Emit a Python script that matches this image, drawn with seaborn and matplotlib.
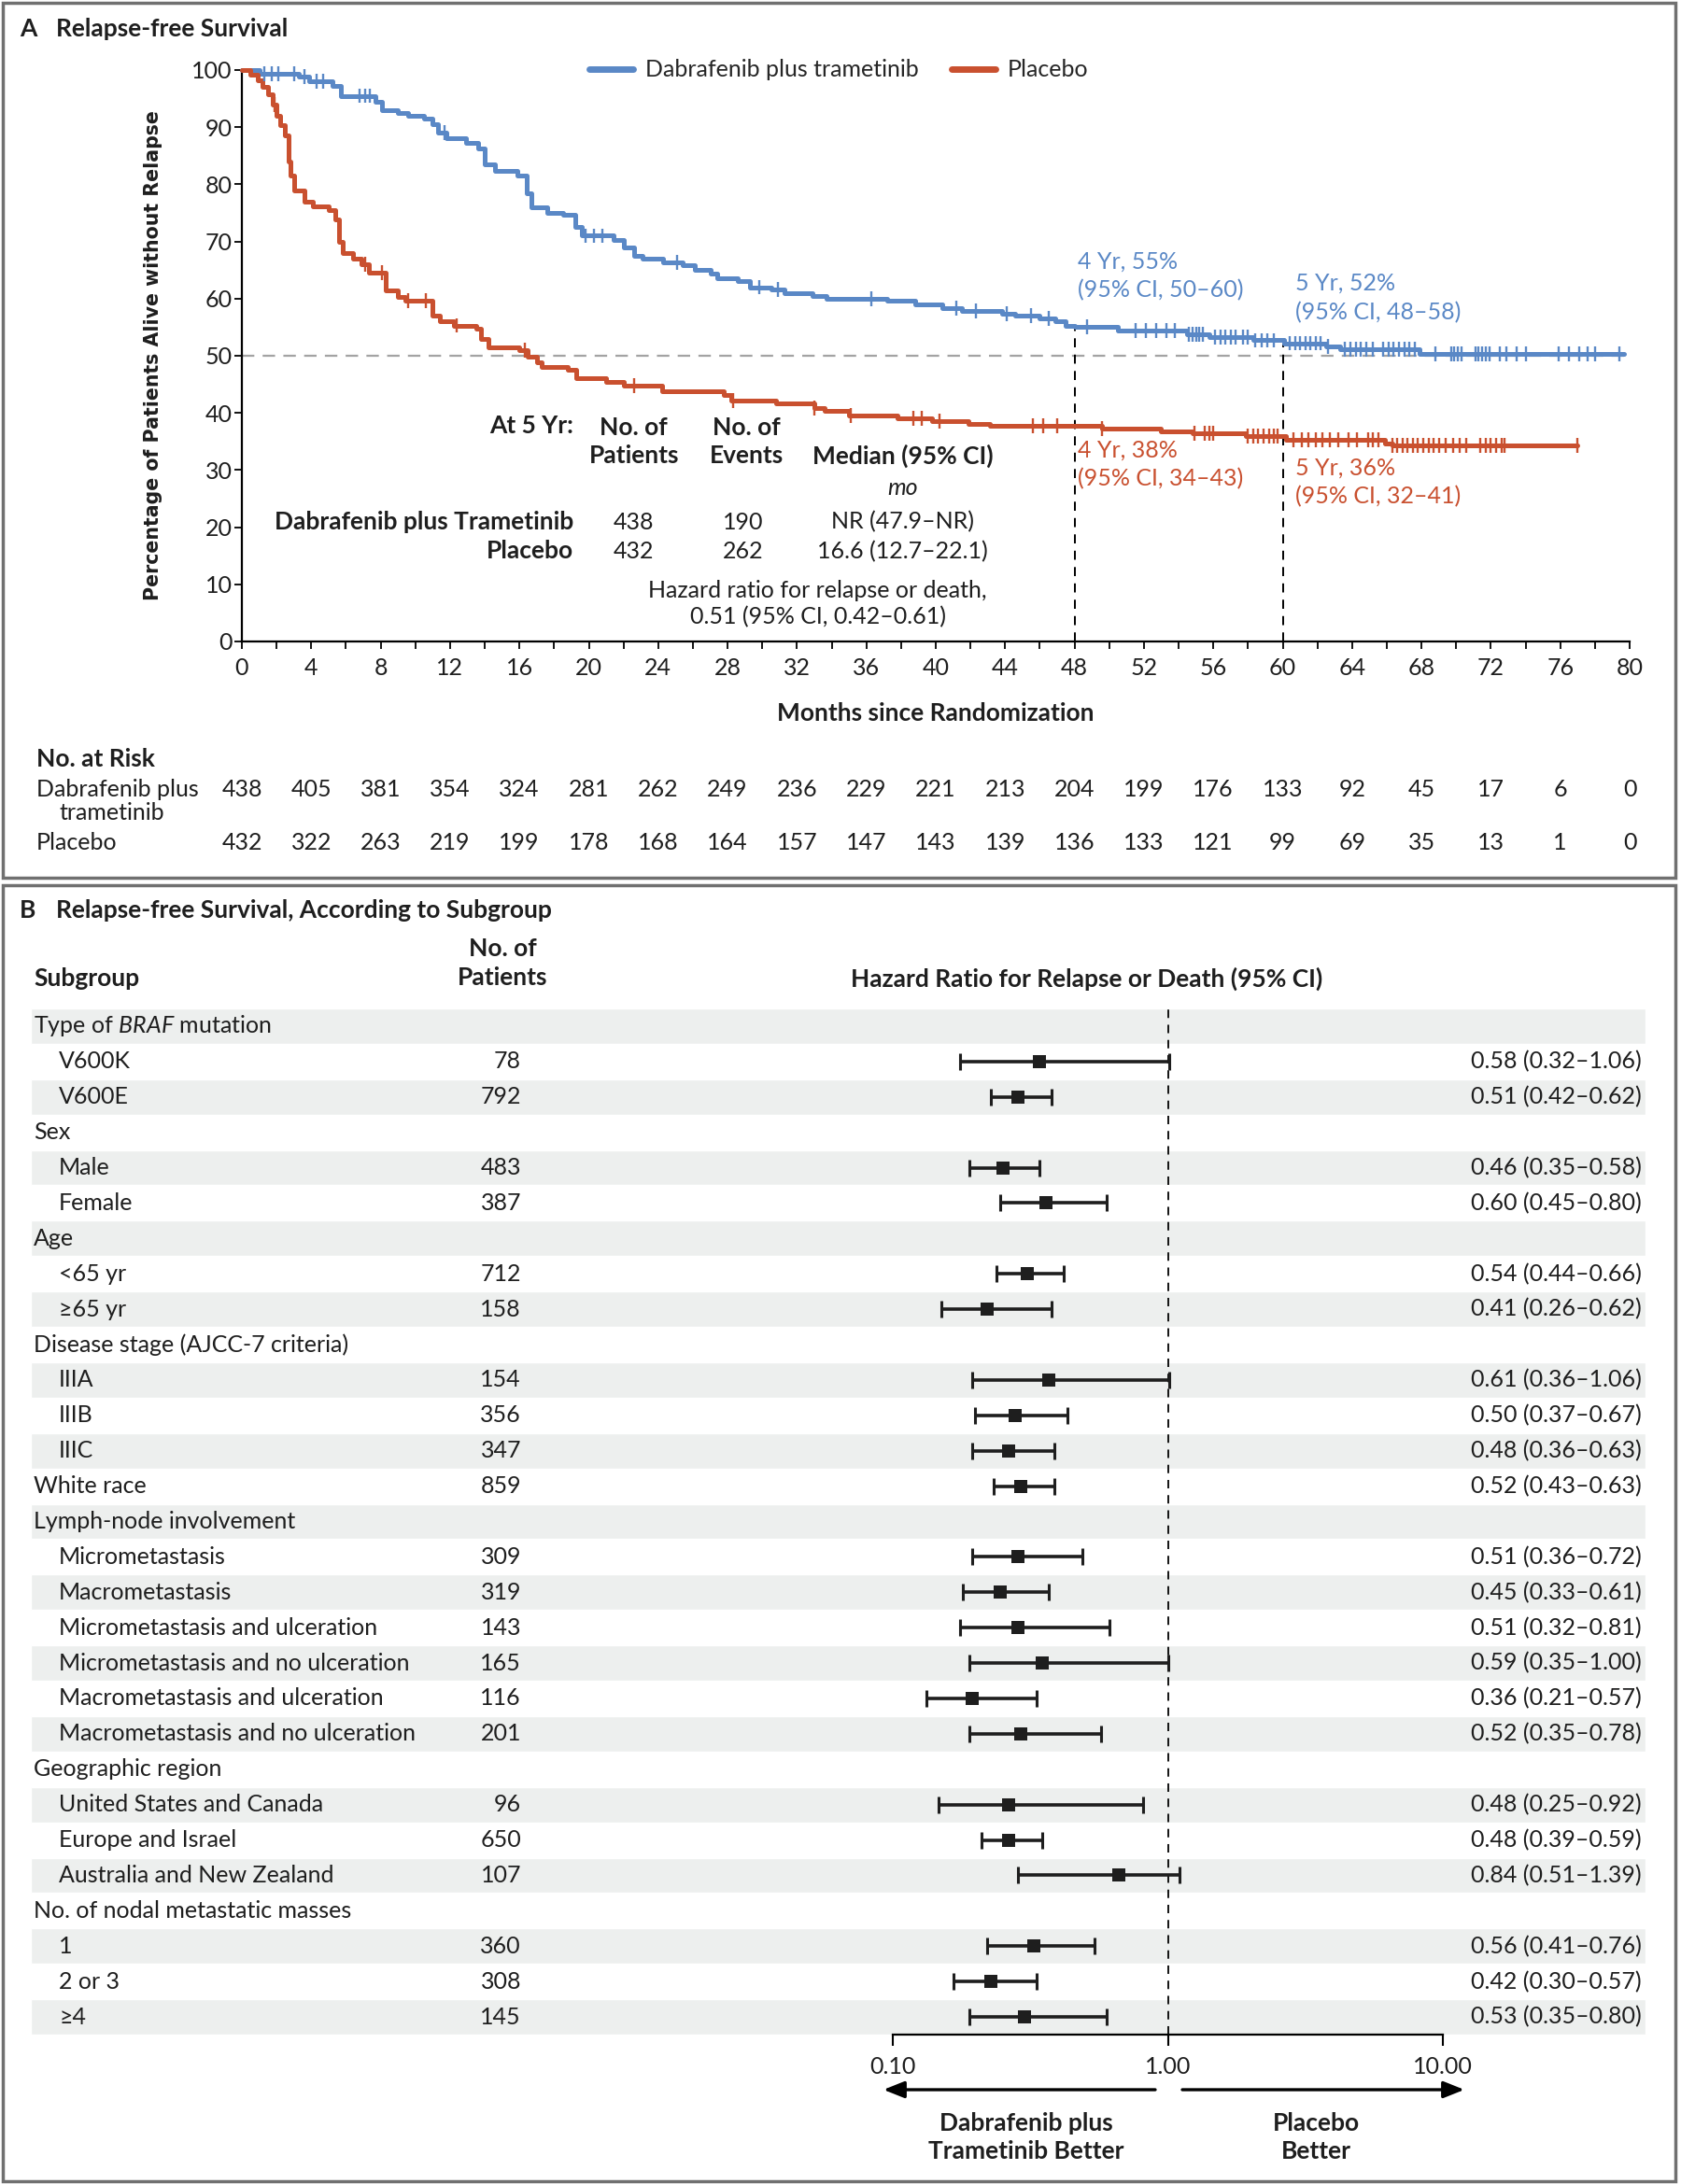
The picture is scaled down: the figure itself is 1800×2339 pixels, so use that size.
#--------------------------- Relapse-free Survival ---------------------------#
#Panel A: Kaplan-Meier curves + No. at Risk
#Panel B: Forest plot nach Subgruppen

import numpy as np
import pandas as pd
import matplotlib
matplotlib.use('Agg')
import matplotlib.pyplot as plt
import seaborn as sns
from matplotlib import font_manager
from matplotlib.patches import Rectangle, FancyArrowPatch
from matplotlib.transforms import blended_transform_factory

#----------- Daten -----------#
#Kaplan-Meier Stufen (Monat, Prozent)
blue_t = [0, 1.0, 3.3, 3.9, 5.2, 5.7, 7.7, 8.1, 9.0, 9.6, 10.5, 11.0, 11.3, 11.8, 12.9, 13.6,
          14.0, 14.6, 15.9, 16.4, 16.7, 17.6, 18.5, 19.2, 19.6, 21.4, 22.0, 22.6, 23.1, 24.3,
          25.4, 26.1, 27.0, 27.4, 28.6, 29.3, 30.5, 31.3, 32.9, 33.7, 37.2, 38.8, 40.4, 41.5,
          43.8, 44.6, 46.0, 46.9, 47.5, 48.0, 50.5, 54.5, 55.8, 58.3, 60.1, 62.5, 63.3, 67.9, 79.7]
blue_s = [100, 99.3, 98.8, 98.0, 97.3, 95.5, 94.5, 93.0, 92.5, 92.0, 91.5, 90.5, 89.0, 88.0, 87.2, 86.3,
          83.5, 82.4, 81.5, 78.5, 76.0, 75.0, 74.6, 72.5, 71.0, 70.3, 69.0, 67.5, 67.0, 66.4,
          65.8, 65.1, 64.4, 63.6, 63.0, 62.0, 61.6, 61.0, 60.5, 60.0, 59.6, 59.0, 58.4, 57.9,
          57.4, 57.0, 56.5, 56.0, 55.3, 55.0, 54.4, 53.8, 53.2, 52.7, 52.2, 51.7, 51.2, 50.3, 50.3]
red_t = [0, 0.5, 0.9, 1.2, 1.5, 1.8, 2.0, 2.2, 2.5, 2.7, 2.8, 3.0, 3.6, 4.1, 5.0, 5.4, 5.6, 5.8,
         6.4, 6.9, 7.3, 8.3, 9.0, 9.4, 11.0, 11.4, 12.2, 13.5, 13.8, 14.2, 16.0, 16.5, 17.0, 17.3,
         18.8, 19.3, 21.0, 22.0, 24.2, 27.8, 28.2, 30.8, 33.0, 33.6, 35.0, 37.8, 39.8, 41.9, 43.1,
         49.6, 53.0, 54.8, 57.9, 60.2, 65.9, 66.3, 77.0]
red_s = [100, 99.2, 98.2, 97.0, 95.8, 94.0, 92.0, 90.3, 88.5, 84.0, 81.5, 79.0, 77.0, 76.2, 75.5, 73.8, 70.0, 68.0,
         67.0, 66.0, 64.5, 61.5, 60.3, 59.6, 57.0, 56.0, 55.3, 54.8, 53.0, 51.5, 51.0, 49.8, 48.8, 48.0,
         47.6, 46.0, 45.5, 44.8, 43.8, 43.2, 42.2, 41.7, 40.8, 40.3, 39.6, 39.0, 38.5, 38.1, 37.8,
         37.3, 36.8, 36.4, 35.9, 35.3, 34.7, 34.3, 34.3]

#Zensierungen (Monat)
blue_cens = [1.3, 1.7, 2.1, 3.0, 3.6, 4.3, 4.7, 6.8, 7.1, 7.4, 11.7, 19.8, 20.3, 20.8, 25.1, 29.8, 30.9,
             36.3, 41.2, 42.3, 44.1, 45.5, 46.5, 48.7, 51.5, 52.1, 52.7, 53.3, 53.8, 54.6, 54.8, 55.0,
             55.2, 55.4, 56.1, 56.4, 56.7, 57.0, 57.3, 57.7, 58.0, 58.4, 58.8, 59.1, 59.5, 60.4, 60.7,
             61.0, 61.3, 61.6, 61.9, 62.2, 62.6, 63.6, 63.9, 64.2, 64.5, 64.8, 65.2, 65.8, 66.1, 66.4,
             66.7, 67.0, 67.3, 67.6, 68.8, 69.7, 69.9, 70.1, 70.3, 71.1, 71.3, 71.5, 71.7, 71.9, 72.5,
             72.9, 73.5, 74.0, 75.9, 76.5, 77.1, 77.6, 78.0, 79.4]
red_cens = [1.9, 7.1, 8.1, 9.6, 10.6, 12.4, 16.3, 22.6, 28.3, 33.0, 35.1, 38.7, 39.2, 40.2, 45.6, 46.2,
            47.0, 49.6, 54.9, 55.5, 55.8, 56.0, 58.0, 58.3, 58.6, 58.9, 59.2, 59.5, 59.7, 60.6, 61.1,
            61.5, 61.9, 62.3, 62.7, 63.2, 63.8, 64.3, 64.9, 65.2, 65.5, 66.3, 66.6, 66.9, 67.2, 67.5,
            67.8, 68.1, 68.4, 68.7, 69.0, 69.4, 69.8, 70.2, 70.6, 71.4, 71.7, 72.0, 72.3, 72.6, 72.8, 77.0]

arm_names = ['Dabrafenib plus trametinib', 'Placebo']

#No. at Risk
risk_months = list(range(0, 81, 4))
risk_blue = [438, 405, 381, 354, 324, 281, 262, 249, 236, 229, 221, 213, 204, 199, 176, 133, 92, 45, 17, 6, 0]
risk_red = [432, 322, 263, 219, 199, 178, 168, 164, 157, 147, 143, 139, 136, 133, 121, 99, 69, 35, 13, 1, 0]

#Subgruppen
sub_labels = ['Type of $\\mathit{BRAF}$ mutation', 'V600K', 'V600E', 'Sex', 'Male', 'Female', 'Age',
              '<65 yr', '\u226565 yr', 'Disease stage (AJCC-7 criteria)', 'IIIA', 'IIIB', 'IIIC',
              'White race', 'Lymph-node involvement', 'Micrometastasis', 'Macrometastasis',
              'Micrometastasis and ulceration', 'Micrometastasis and no ulceration',
              'Macrometastasis and ulceration', 'Macrometastasis and no ulceration',
              'Geographic region', 'United States and Canada', 'Europe and Israel',
              'Australia and New Zealand', 'No. of nodal metastatic masses', '1', '2 or 3', '\u22654']
sub_indent = [0, 1, 1, 0, 1, 1, 0, 1, 1, 0, 1, 1, 1, 0, 0, 1, 1, 1, 1, 1, 1, 0, 1, 1, 1, 0, 1, 1, 1]
sub_n = [None, 78, 792, None, 483, 387, None, 712, 158, None, 154, 356, 347, 859, None, 309, 319,
         143, 165, 116, 201, None, 96, 650, 107, None, 360, 308, 145]
sub_hr = [np.nan, 0.58, 0.51, np.nan, 0.46, 0.60, np.nan, 0.54, 0.41, np.nan, 0.61, 0.50, 0.48, 0.52,
          np.nan, 0.51, 0.45, 0.51, 0.59, 0.36, 0.52, np.nan, 0.48, 0.48, 0.84, np.nan, 0.56, 0.42, 0.53]
sub_lo = [np.nan, 0.32, 0.42, np.nan, 0.35, 0.45, np.nan, 0.44, 0.26, np.nan, 0.36, 0.37, 0.36, 0.43,
          np.nan, 0.36, 0.33, 0.32, 0.35, 0.21, 0.35, np.nan, 0.25, 0.39, 0.51, np.nan, 0.41, 0.30, 0.35]
sub_hi = [np.nan, 1.06, 0.62, np.nan, 0.58, 0.80, np.nan, 0.66, 0.62, np.nan, 1.06, 0.67, 0.63, 0.63,
          np.nan, 0.72, 0.61, 0.81, 1.00, 0.57, 0.78, np.nan, 0.92, 0.59, 1.39, np.nan, 0.76, 0.57, 0.80]

#----------- Stil -----------#
sns.set_theme(style='ticks')
installed = {f.name for f in font_manager.fontManager.ttflist}
narrow = 'Liberation Sans Narrow' in installed
MAIN = 'Liberation Sans Narrow' if narrow else 'Lato'
FS = 20 if narrow else 18       #normal
FB = 20 if narrow else 19       #fett
LS = 1.3                        #Zeilenabstand
plt.rcParams['font.family'] = [MAIN, 'DejaVu Sans']
plt.rcParams['mathtext.fontset'] = 'custom'
plt.rcParams['mathtext.it'] = MAIN + ':italic'
plt.rcParams['mathtext.rm'] = MAIN

BLUE = '#5A88C6'
RED = '#C9502F'
BAND = '#EDEFEE'
FRAME = '#707070'
INK = '#1E1E1E'

W, H = 1800, 2339
fig = plt.figure(figsize=(18, 23.39), dpi=100)
fig.patch.set_facecolor('white')

def box(x0, y0, x1, y1):
    #Pixelbox -> Figure-Koordinaten
    return [x0 / W, 1 - y1 / H, (x1 - x0) / W, (y1 - y0) / H]

def ftext(x, y, s, **kw):
    kw.setdefault('fontsize', FS)
    kw.setdefault('color', INK)
    return fig.text(x / W, 1 - y / H, s, **kw)

#Rahmen
fig.add_artist(Rectangle((3 / W, 1 - 940 / H), 1791 / W, 937 / H, transform=fig.transFigure,
                         fill=False, ec=FRAME, lw=2.5))
fig.add_artist(Rectangle((3 / W, 1 - 2336 / H), 1791 / W, 1388 / H, transform=fig.transFigure,
                         fill=False, ec=FRAME, lw=2.5))

#----------- Panel A -----------#
ftext(21, 31, 'A', fontweight='bold', va='center', fontsize=FB)
ftext(60, 31, 'Relapse-free Survival', fontweight='bold', va='center', fontsize=FB)

def step_at(t_arr, s_arr, t):
    idx = np.searchsorted(np.asarray(t_arr), np.asarray(t), side='right') - 1
    return np.asarray(s_arr)[idx]

km = pd.concat([pd.DataFrame({'month': blue_t, 'pct': blue_s, 'arm': arm_names[0]}),
                pd.DataFrame({'month': red_t, 'pct': red_s, 'arm': arm_names[1]})])
cens = pd.concat([pd.DataFrame({'month': blue_cens, 'pct': step_at(blue_t, blue_s, blue_cens), 'arm': arm_names[0]}),
                  pd.DataFrame({'month': red_cens, 'pct': step_at(red_t, red_s, red_cens), 'arm': arm_names[1]})])

ax = fig.add_axes(box(259, 75, 1745, 687))
ax.axhline(50, color='#A3A3A3', lw=1.6, ls=(0, (6, 4)), zorder=1)
ax.vlines([48, 60], 0, [step_at(blue_t, blue_s, 48), step_at(blue_t, blue_s, 60)],
          color='black', lw=1.4, ls=(0, (5, 4)), zorder=1)
sns.lineplot(data=km, x='month', y='pct', hue='arm', hue_order=arm_names, palette=[BLUE, RED],
             estimator=None, sort=False, drawstyle='steps-post', linewidth=3.6, ax=ax, zorder=3,
             clip_on=False)
sns.scatterplot(data=cens, x='month', y='pct', hue='arm', hue_order=arm_names, palette=[BLUE, RED],
                marker='|', s=130, linewidth=1.7, legend=False, ax=ax, zorder=4, clip_on=False)

handles, labels = ax.get_legend_handles_labels()
leg = ax.legend(handles, labels, loc='center', bbox_to_anchor=(0.43, 1.0), ncol=2, frameon=False,
                fontsize=FS, handlelength=1.9, handletextpad=0.5, columnspacing=1.4)
for ln in leg.get_lines():
    ln.set_linewidth(5)

ax.set_xlim(0, 80)
ax.set_ylim(0, 100)
ax.set_xticks(risk_months)
ax.set_xticks(range(0, 81, 2), minor=True)
ax.set_yticks(range(0, 101, 10))
ax.tick_params(axis='both', which='both', direction='out', length=5.5, width=1.3, color='black',
               labelsize=FS, labelcolor=INK)
ax.tick_params(axis='x', pad=7)
ax.tick_params(axis='y', pad=2)
sns.despine(ax=ax)
for sp in ['left', 'bottom']:
    ax.spines[sp].set_linewidth(1.6)
    ax.spines[sp].set_color('black')
ax.set_xlabel('Months since Randomization', fontsize=FB, fontweight='bold', color=INK, va='center')
ax.xaxis.set_label_coords(0.5, (687 - 764) / 612)
ax.set_ylabel('Percentage of Patients Alive without Relapse', fontsize=14.8, fontweight='bold',
              family='DejaVu Sans', color=INK, va='center')
ax.yaxis.set_label_coords((164 - 259) / 1486, 0.5)

#Jahresangaben
ann = dict(fontsize=FS, va='top', linespacing=1.42)
ax.text(48.2, 68.4, '4 Yr, 55%\n(95% CI, 50\u201360)', color=BLUE, **ann)
ax.text(60.7, 64.6, '5 Yr, 52%\n(95% CI, 48\u201358)', color=BLUE, **ann)
ax.text(48.2, 35.4, '4 Yr, 38%\n(95% CI, 34\u201343)', color=RED, **ann)
ax.text(60.7, 32.3, '5 Yr, 36%\n(95% CI, 32\u201341)', color=RED, **ann)

#Tabelle im Plot
tk = dict(color=INK, va='center')
ax.text(19.1, 37.7, 'At 5 Yr:', ha='right', fontweight='bold', fontsize=FB, **tk)
ax.text(22.6, 35.0, 'No. of\nPatients', ha='center', fontweight='bold', fontsize=FB, linespacing=LS, **tk)
ax.text(29.1, 35.0, 'No. of\nEvents', ha='center', fontweight='bold', fontsize=FB, linespacing=LS, **tk)
ax.text(38.1, 32.4, 'Median (95% CI)', ha='center', fontweight='bold', fontsize=FB, **tk)
ax.text(38.1, 26.8, 'mo', ha='center', style='italic', fontsize=FS, **tk)
ax.text(19.1, 20.9, 'Dabrafenib plus Trametinib', ha='right', fontweight='bold', fontsize=FB, **tk)
ax.text(19.1, 15.8, 'Placebo', ha='right', fontweight='bold', fontsize=FB, **tk)
for yy, vals in [(20.9, ['438', '190', 'NR (47.9\u2013NR)']), (15.8, ['432', '262', '16.6 (12.7\u201322.1)'])]:
    for xx, v in zip([22.6, 28.9, 38.1], vals):
        ax.text(xx, yy, v, ha='center', fontsize=FS, **tk)
ax.text(33.2, 6.6, 'Hazard ratio for relapse or death,\n0.51 (95% CI, 0.42\u20130.61)', ha='center',
        linespacing=1.25, fontsize=FS, **tk)

#No. at Risk
trans = blended_transform_factory(ax.transData, fig.transFigure)
ftext(39, 813, 'No. at Risk', fontweight='bold', va='center', fontsize=FB)
ftext(39, 845, 'Dabrafenib plus', va='center')
ftext(63, 871, 'trametinib', va='center')
ftext(39, 902, 'Placebo', va='center')
for m, b, r in zip(risk_months, risk_blue, risk_red):
    ax.text(m, 1 - 845 / H, str(b), transform=trans, ha='center', va='center', fontsize=FS, color=INK)
    ax.text(m, 1 - 902 / H, str(r), transform=trans, ha='center', va='center', fontsize=FS, color=INK)

#----------- Panel B -----------#
ftext(21, 975, 'B', fontweight='bold', va='center', fontsize=FB)
ftext(60, 975, 'Relapse-free Survival, According to Subgroup', fontweight='bold', va='center', fontsize=FB)
ftext(36, 1048, 'Subgroup', fontweight='bold', va='center', fontsize=FB)
ftext(538, 1032, 'No. of\nPatients', fontweight='bold', va='center', ha='center', linespacing=1.35, fontsize=FB)
ftext(1164, 1048, 'Hazard Ratio for Relapse or Death (95% CI)', fontweight='bold', va='center',
      ha='center', fontsize=FB)

rows = np.arange(len(sub_labels))
n_rows = len(sub_labels)
ax_t = fig.add_axes(box(0, 1080, W, 2179))
ax_t.set_xlim(0, W)
ax_t.set_ylim(n_rows - 0.5, -0.5)
ax_t.axis('off')
ax_t.barh(rows[::2], width=1729, left=33, height=1.0, color=BAND, zorder=0)
for i, lab in enumerate(sub_labels):
    ax_t.text(63 if sub_indent[i] else 36, i, lab, va='center', ha='left', fontsize=FS, color=INK)
    if sub_n[i] is not None:
        ax_t.text(558, i, str(sub_n[i]), va='center', ha='right', fontsize=FS, color=INK)
    if not np.isnan(sub_hr[i]):
        ax_t.text(1758, i, '%.2f (%.2f\u2013%.2f)' % (sub_hr[i], sub_lo[i], sub_hi[i]),
                  va='center', ha='right', fontsize=FS, color=INK)

#Skala wie im Original: 0.1-1 und 1-10 jeweils linear auf gleicher Breite
def fwd(x):
    x = np.asarray(x, dtype=float)
    return np.where(x <= 1, (x - 0.1) / 0.9, 1 + (x - 1) / 9)

def inv(y):
    y = np.asarray(y, dtype=float)
    return np.where(y <= 1, 0.1 + 0.9 * y, 1 + 9 * (y - 1))

forest = pd.DataFrame({'row': rows, 'hr': sub_hr, 'lo': sub_lo, 'hi': sub_hi}).dropna()
ax_f = fig.add_axes(box(956, 1080, 1545, 2179))
ax_f.patch.set_visible(False)
ax_f.set_xscale('function', functions=(fwd, inv))
ax_f.set_xlim(0.1, 10)
ax_f.set_ylim(n_rows - 0.5, -0.5)
ax_f.axvline(1, color='black', lw=1.3, ls=(0, (5, 4)), zorder=1)
ax_f.errorbar(forest['hr'], forest['row'], xerr=[forest['hr'] - forest['lo'], forest['hi'] - forest['hr']],
              fmt='none', ecolor=INK, elinewidth=2.6, capsize=6.5, capthick=2.2, zorder=2)
sns.scatterplot(data=forest, x='hr', y='row', marker='s', s=90, color=INK, edgecolor=INK,
                linewidth=0, ax=ax_f, zorder=3)
ax_f.set_xlabel('')
ax_f.set_ylabel('')
ax_f.set_yticks([])
ax_f.set_xticks([0.1, 1, 10])
ax_f.set_xticklabels(['0.10', '1.00', '10.00'])
ax_f.xaxis.set_minor_locator(matplotlib.ticker.NullLocator())
ax_f.tick_params(axis='x', direction='out', length=8.5, width=1.5, color='black', labelsize=FS,
                 labelcolor=INK, pad=8)
for sp in ['left', 'right', 'top']:
    ax_f.spines[sp].set_visible(False)
ax_f.spines['bottom'].set_linewidth(1.6)
ax_f.spines['bottom'].set_color('black')

#Pfeile
for x0, x1 in [(1237, 946), (1266, 1568)]:
    fig.add_artist(FancyArrowPatch((x0 / W, 1 - 2238 / H), (x1 / W, 1 - 2238 / H), transform=fig.transFigure,
                                   arrowstyle='-|>,head_length=0.9,head_width=0.36', mutation_scale=15,
                                   lw=2.4, color='black', shrinkA=0, shrinkB=0))
ftext(1099, 2289, 'Dabrafenib plus\nTrametinib Better', fontweight='bold', ha='center', va='center',
      linespacing=1.35, fontsize=FB)
ftext(1409, 2289, 'Placebo\nBetter', fontweight='bold', ha='center', va='center', linespacing=1.35, fontsize=FB)

plt.savefig('out.png', dpi=100, facecolor='white')
